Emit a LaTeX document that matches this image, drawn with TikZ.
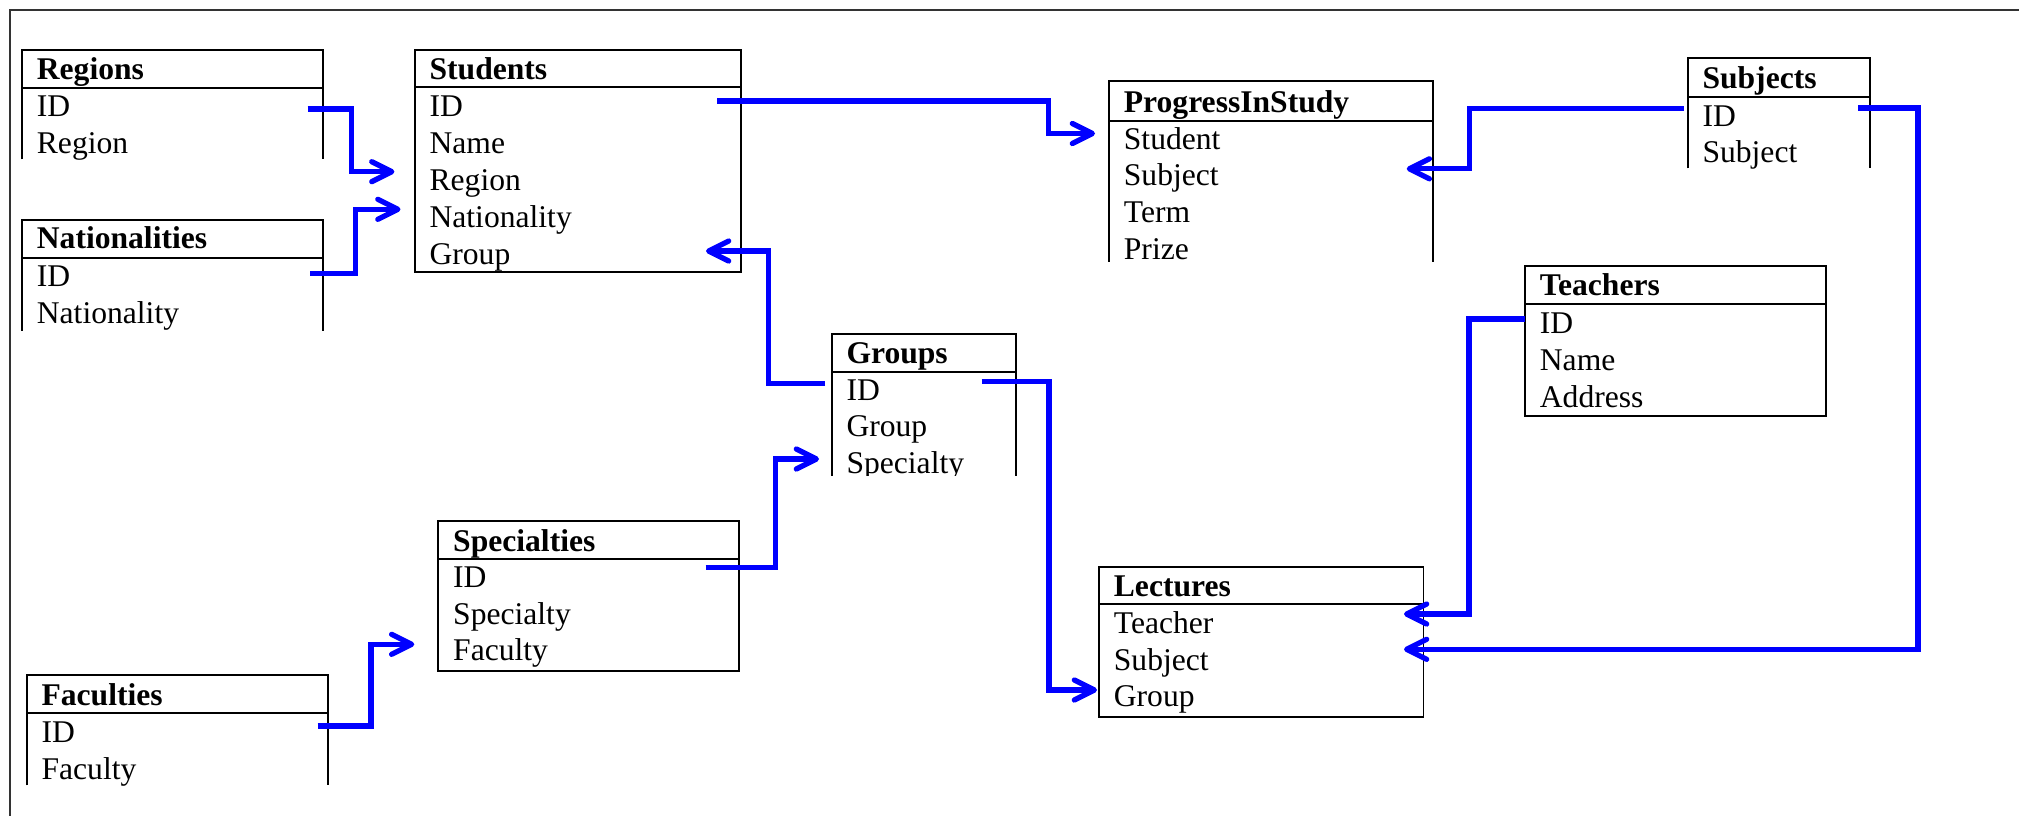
\documentclass[tikz,border=0pt]{standalone}
\usepackage{fontspec}
\setmainfont{Liberation Serif}
\usetikzlibrary{arrows.meta}
\newcommand{\tblfont}{\fontsize{15.8}{19}\selectfont}
\tikzset{
  frameline/.style={draw=black!80, line width=1pt},
  tblline/.style={draw=black, line width=0.9pt},
  hdr/.style={anchor=base west, inner sep=0pt, font=\tblfont\bfseries},
  fld/.style={anchor=base west, inner sep=0pt, font=\tblfont},
  link/.style={draw=blue, line width=2.65pt, line join=miter,
    -{Straight Barb[length=10pt,width=10pt,round]}},
}
\begin{document}
\begin{tikzpicture}[x=0.5pt,y=-0.5pt]
\useasboundingbox (0,0) rectangle (2019,816);
% outer page frame (top and left only)
\draw[frameline] (2019,9.5) -- (9.5,9.5) -- (9.5,816);

% ---------- Regions (open bottom)
\draw[tblline] (22,159.3) |- (323,50) -- (323,159.3);
\draw[tblline] (22,88) -- (323,88);
\begin{scope}
\clip (22,50) rectangle (323,159.3);
\node[hdr] (regH) at (36.5,79.3) {Regions};
\node[fld] (regID) at (36.5,116.7) {ID};
\node[fld] (regRegion) at (36.5,153.3) {Region};
\end{scope}

% ---------- Nationalities (open bottom)
\draw[tblline] (22,330.7) |- (323,220) -- (323,330.7);
\draw[tblline] (22,257.7) -- (323,257.7);
\begin{scope}
\clip (22,220) rectangle (323,330.7);
\node[hdr] (natH) at (36.5,248.3) {Nationalities};
\node[fld] (natID) at (36.5,286.7) {ID};
\node[fld] (natNat) at (36.5,323.3) {Nationality};
\end{scope}

% ---------- Students (closed)
\draw[tblline] (414.7,50) rectangle (740.7,272.3);
\draw[tblline] (414.7,87.3) -- (740.7,87.3);
\node[hdr] (stuH) at (429.2,79.3) {Students};
\node[fld] (stuID) at (429.2,116) {ID};
\node[fld] (stuName) at (429.2,153.3) {Name};
\node[fld] (stuRegion) at (429.2,190.7) {Region};
\node[fld] (stuNat) at (429.2,227.3) {Nationality};
\node[fld] (stuGroup) at (429.2,264) {Group};

% ---------- ProgressInStudy (open bottom)
\draw[tblline] (1109,261.7) |- (1432.7,81) -- (1432.7,261.7);
\draw[tblline] (1109,120.7) -- (1432.7,120.7);
\begin{scope}
\clip (1109,81) rectangle (1432.7,261.7);
\node[hdr] (pisH) at (1123.5,112.7) {ProgressInStudy};
\node[fld] (pisStudent) at (1123.5,149) {Student};
\node[fld] (pisSubject) at (1123.5,185.7) {Subject};
\node[fld] (pisTerm) at (1123.5,222.3) {Term};
\node[fld] (pisPrize) at (1123.5,259) {Prize};
\end{scope}

% ---------- Subjects (open bottom)
\draw[tblline] (1687.6,168.3) |- (1870,57.7) -- (1870,168.3);
\draw[tblline] (1687.6,96.7) -- (1870,96.7);
\begin{scope}
\clip (1687.6,57.7) rectangle (1870,168.3);
\node[hdr] (subH) at (1702.1,88.3) {Subjects};
\node[fld] (subID) at (1702.1,126) {ID};
\node[fld] (subSubject) at (1702.1,162.7) {Subject};
\end{scope}

% ---------- Teachers (closed)
\draw[tblline] (1525,265.7) rectangle (1825.7,415.7);
\draw[tblline] (1525,304.3) -- (1825.7,304.3);
\node[hdr] (teaH) at (1539.5,295) {Teachers};
\node[fld] (teaID) at (1539.5,333.3) {ID};
\node[fld] (teaName) at (1539.5,370.7) {Name};
\node[fld] (teaAddr) at (1539.5,407.3) {Address};

% ---------- Groups (open bottom)
\draw[tblline] (831.6,475.7) |- (1016.3,333.7) -- (1016.3,475.7);
\draw[tblline] (831.6,371.7) -- (1016.3,371.7);
\begin{scope}
\clip (831.6,333.7) rectangle (1016.3,475.7);
\node[hdr] (grpH) at (846.1,363.3) {Groups};
\node[fld] (grpID) at (846.1,400) {ID};
\node[fld] (grpGroup) at (846.1,436.7) {Group};
\node[fld] (grpSpec) at (846.1,473.3) {Specialty};
\end{scope}

% ---------- Specialties (closed)
\draw[tblline] (438.3,520.7) rectangle (738.8,670.7);
\draw[tblline] (438.3,559) -- (738.8,559);
\node[hdr] (spcH) at (452.8,551) {Specialties};
\node[fld] (spcID) at (452.8,587.3) {ID};
\node[fld] (spcSpec) at (452.8,624) {Specialty};
\node[fld] (spcFac) at (452.8,660.7) {Faculty};

% ---------- Faculties (open bottom)
\draw[tblline] (26.7,785.3) |- (328.3,675) -- (328.3,785.3);
\draw[tblline] (26.7,713) -- (328.3,713);
\begin{scope}
\clip (26.7,675) rectangle (328.3,785.3);
\node[hdr] (facH) at (41.2,705.3) {Faculties};
\node[fld] (facID) at (41.2,742.7) {ID};
\node[fld] (facFac) at (41.2,779.3) {Faculty};
\end{scope}

% ---------- Lectures (closed)
\draw[tblline] (1099,567) rectangle (1423.5,716.7);
\draw[tblline] (1099,604.3) -- (1423.5,604.3);
\node[hdr] (lecH) at (1113.5,596.7) {Lectures};
\node[fld] (lecTeacher) at (1113.5,633.3) {Teacher};
\node[fld] (lecSubject) at (1113.5,670) {Subject};
\node[fld] (lecGroup) at (1113.5,706.7) {Group};

% ---------- connector end points
\coordinate (aS) at (307.7,109);   \coordinate (aT) at (394.4,171.7);
\coordinate (bS) at (310,273.3);   \coordinate (bT) at (400.5,209.3);
\coordinate (cS) at (717,101);     \coordinate (cT) at (1095,133.5);
\coordinate (dS) at (825,383.5);   \coordinate (dT) at (706,251);
\coordinate (eS) at (981.6,381.5); \coordinate (eT) at (1097,690);
\coordinate (fS) at (705.6,567.7); \coordinate (fT) at (819,459);
\coordinate (gS) at (317.7,726);   \coordinate (gT) at (414.3,644.3);
\coordinate (hS) at (1684,108.3);  \coordinate (hT) at (1406.7,168.8);
\coordinate (iS) at (1525,319);    \coordinate (iT) at (1404,614);
\coordinate (jS) at (1858,108);    \coordinate (jT) at (1404,649.3);

% ---------- connectors
\draw[link] (aS) -- ++(43.8,0) |- (aT);
\draw[link] (bS) -- ++(45.6,0) |- (bT);
\draw[link] (cS) -- ++(331.5,0) |- (cT);
\draw[link] (dS) -- ++(-56.5,0) |- (dT);
\draw[link] (eS) -- ++(67.4,0) |- (eT);
\draw[link] (fS) -- ++(70,0) |- (fT);
\draw[link] (gS) -- ++(53.3,0) |- (gT);
\draw[link] (hS) -- ++(-214.3,0) |- (hT);
\draw[link] (iS) -- ++(-56,0) |- (iT);
\draw[link] (jS) -- ++(60,0) |- (jT);
\end{tikzpicture}
\end{document}
